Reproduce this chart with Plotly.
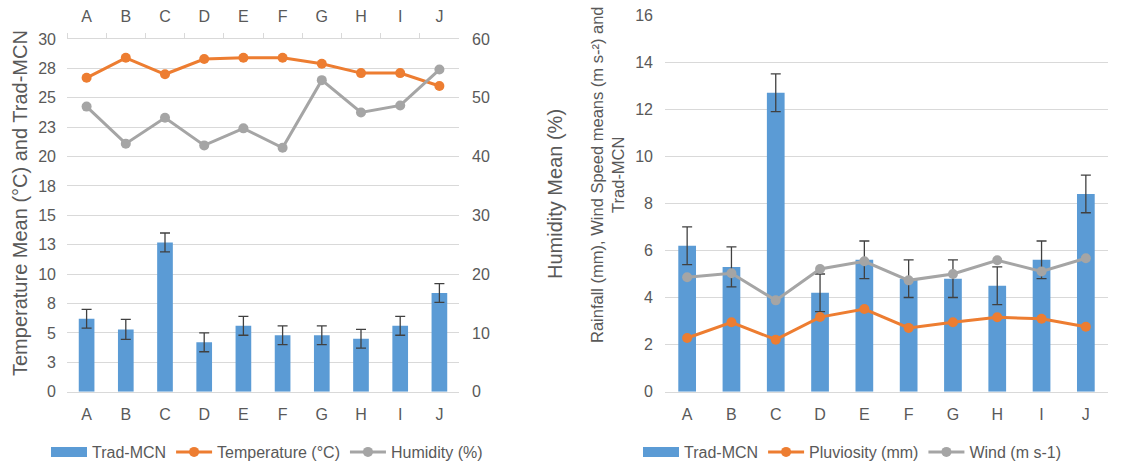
import plotly.graph_objects as go

categories = ["A", "B", "C", "D", "E", "F", "G", "H", "I", "J"]
trad_mcn = [6.2, 5.3, 12.7, 4.2, 5.6, 4.8, 4.8, 4.5, 5.6, 8.4]
trad_err = [0.8, 0.85, 0.8, 0.8, 0.8, 0.8, 0.8, 0.8, 0.8, 0.8]
temperature = [26.7, 28.4, 27.0, 28.3, 28.4, 28.4, 27.9, 27.1, 27.1, 26.0]
humidity = [48.5, 42.2, 46.6, 41.9, 44.8, 41.5, 53.0, 47.5, 48.7, 54.8]
pluviosity = [2.28, 2.95, 2.21, 3.17, 3.51, 2.71, 2.95, 3.16, 3.10, 2.76]
wind = [4.86, 5.03, 3.88, 5.21, 5.54, 4.73, 5.00, 5.58, 5.11, 5.67]

left_tickvals = [0, 2.5, 5, 7.5, 10, 12.5, 15, 17.5, 20, 22.5, 25, 27.5, 30]
left_ticktext = ["0", "3", "5", "8", "10", "13", "15", "18", "20", "23", "25", "28", "30"]

BLUE = "#5B9BD5"
ORANGE = "#ED7D31"
GRAY = "#A5A5A5"
TXT = "#595959"
GRID = "#D9D9D9"
FONT = "Liberation Sans, Arial, sans-serif"

W, H = 1141, 466

def px_x(p):
    return p / W

def px_y(p):
    return 1 - p / H

fig = go.Figure()

err = dict(type="data", array=trad_err, visible=True, color="#404040", thickness=1.3, width=5)

def bar_legend_proxy(legend):
    # legend entry drawn as a wide rectangle like the original
    return go.Scatter(x=[None], y=[None], name="Trad-MCN", mode="lines",
                      line=dict(color=BLUE, width=10), legend=legend, hoverinfo="skip")

# Left chart
fig.add_trace(go.Bar(x=categories, y=trad_mcn, name="Trad-MCN", marker_color=BLUE,
                     marker_line_width=0, width=0.4, error_y=err, showlegend=False,
                     xaxis="x", yaxis="y"))
fig.add_trace(bar_legend_proxy("legend"))
fig.add_trace(go.Scatter(x=categories, y=temperature, name="Temperature (°C)", mode="lines+markers",
                         line=dict(color=ORANGE, width=3), marker=dict(color=ORANGE, size=10),
                         xaxis="x", yaxis="y", legend="legend"))
fig.add_trace(go.Scatter(x=categories, y=humidity, name="Humidity (%)", mode="lines+markers",
                         line=dict(color=GRAY, width=3), marker=dict(color=GRAY, size=10),
                         xaxis="x3", yaxis="y2", legend="legend"))

# Right chart
fig.add_trace(go.Bar(x=categories, y=trad_mcn, name="Trad-MCN", marker_color=BLUE,
                     marker_line_width=0, width=0.4, error_y=err, showlegend=False,
                     xaxis="x2", yaxis="y3"))
fig.add_trace(bar_legend_proxy("legend2"))
fig.add_trace(go.Scatter(x=categories, y=pluviosity, name="Pluviosity (mm)", mode="lines+markers",
                         line=dict(color=ORANGE, width=3), marker=dict(color=ORANGE, size=10),
                         xaxis="x2", yaxis="y3", legend="legend2"))
fig.add_trace(go.Scatter(x=categories, y=wind, name="Wind (m s-1)", mode="lines+markers",
                         line=dict(color=GRAY, width=3), marker=dict(color=GRAY, size=10),
                         xaxis="x2", yaxis="y3", legend="legend2"))

tickfont = dict(family=FONT, size=16, color=TXT)
left_dom = [px_x(67), px_x(459)]
right_dom = [px_x(665), px_x(1108)]

fig.update_layout(
    width=W, height=H,
    margin=dict(l=0, r=0, t=0, b=0, autoexpand=False),
    paper_bgcolor="white", plot_bgcolor="white",
    font=dict(family=FONT, size=16, color=TXT),
    bargap=0.6,
    xaxis=dict(domain=left_dom, anchor="y", type="category", range=[-0.5, 9.5], automargin=False,
               showline=True, linecolor=GRID, linewidth=1, ticks="", showgrid=False,
               tickfont=tickfont, ticklabelstandoff=8),
    xaxis3=dict(overlaying="x", side="top", anchor="y", type="category", range=[-0.5, 9.5],
                automargin=False,
                showline=True, linecolor=GRID, linewidth=1, ticks="outside", tickson="boundaries",
                ticklen=5, tickcolor=GRID, showgrid=False, tickfont=tickfont, ticklabelstandoff=10),
    yaxis=dict(domain=[px_y(391.7), px_y(39)], anchor="x", range=[0, 30], automargin=False,
               tickvals=left_tickvals, ticktext=left_ticktext, showgrid=True, gridcolor=GRID,
               zeroline=False, showline=False, ticks="", tickfont=tickfont, ticklabelstandoff=10),
    yaxis2=dict(overlaying="y", side="right", anchor="x", range=[0, 60], dtick=10, automargin=False,
                showgrid=False, zeroline=False, showline=False, ticks="", tickfont=tickfont,
                ticklabelstandoff=12),
    xaxis2=dict(domain=right_dom, anchor="y3", type="category", range=[-0.5, 9.5], automargin=False,
                showline=True, linecolor=GRID, linewidth=1, ticks="", showgrid=False,
                tickfont=tickfont, ticklabelstandoff=8),
    yaxis3=dict(domain=[px_y(391.7), px_y(15)], anchor="x2", range=[0, 16], dtick=2, automargin=False,
                showgrid=True, gridcolor=GRID, zeroline=False, showline=False, ticks="",
                tickfont=tickfont, ticklabelstandoff=11),
    legend=dict(orientation="h", x=px_x(267), y=px_y(452), xanchor="center", yanchor="middle",
                font=dict(family=FONT, size=16, color=TXT), bgcolor="rgba(0,0,0,0)",
                itemwidth=36, tracegroupgap=0),
    legend2=dict(orientation="h", x=px_x(852), y=px_y(452), xanchor="center", yanchor="middle",
                 font=dict(family=FONT, size=16, color=TXT), bgcolor="rgba(0,0,0,0)",
                 itemwidth=36, tracegroupgap=0),
    annotations=[
        dict(text="Temperature Mean (°C) and Trad-MCN", x=px_x(20), y=px_y(203), xref="paper", yref="paper",
             textangle=-90, showarrow=False, font=dict(family=FONT, size=20, color=TXT),
             xanchor="center", yanchor="middle"),
        dict(text="Humidity Mean (%)", x=px_x(555), y=px_y(194), xref="paper", yref="paper",
             textangle=-90, showarrow=False, font=dict(family=FONT, size=20, color=TXT),
             xanchor="center", yanchor="middle"),
        dict(text="Rainfall (mm), Wind Speed means (m s-²) and<br>Trad-MCN", x=px_x(608), y=px_y(175),
             xref="paper", yref="paper", textangle=-90, showarrow=False,
             font=dict(family=FONT, size=16.5, color=TXT), xanchor="center", yanchor="middle"),
    ],
)

fig.write_html("out.html", config={"displayModeBar": False},
               post_script="document.body.style.margin='0';document.body.style.overflow='hidden';")
